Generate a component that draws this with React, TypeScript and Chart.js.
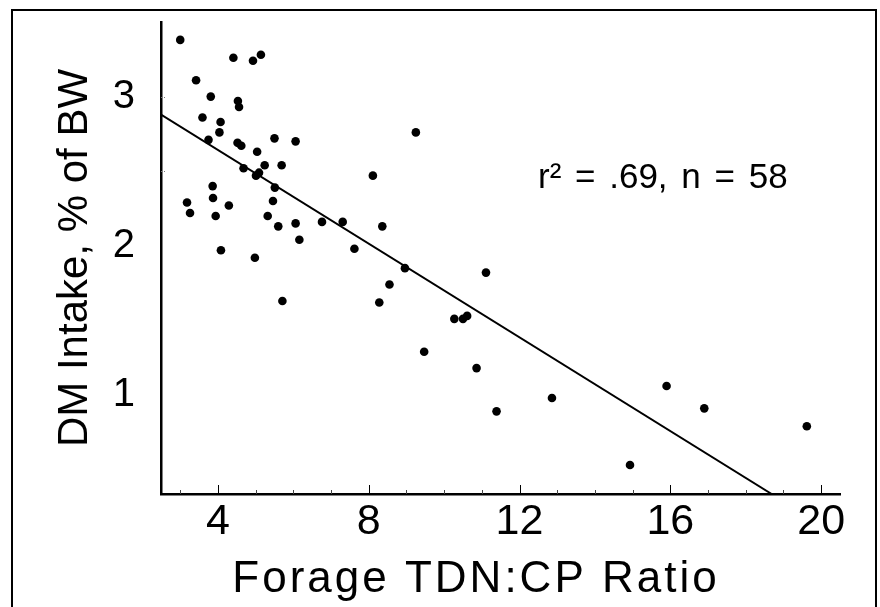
import React, { useEffect, useRef } from "react";
import { Chart, registerables } from "chart.js";

Chart.register(...registerables);

// ---- data ----
const forageRatio = [
  3.0, 4.41, 4.93, 5.14, 3.42, 3.81, 4.53, 4.56, 3.59, 4.07,
  4.04, 3.75, 5.5, 6.06, 4.52, 4.62, 5.04, 4.68, 5.24, 5.69,
  5.09, 5.01, 8.11, 5.51, 3.86, 3.87, 3.18, 3.26, 4.29, 5.46,
  3.94, 5.32, 5.6, 6.06, 6.76, 7.31, 8.36, 6.16, 7.62, 4.08,
  4.98, 8.55, 5.71, 8.28, 9.25, 8.96, 11.11, 10.27, 10.5, 10.61,
  9.47, 10.86, 12.86, 11.39, 15.9, 16.9, 19.62, 14.93,
];
const dmIntake = [
  3.38, 3.26, 3.24, 3.28, 3.11, 3.0, 2.97, 2.93, 2.86, 2.83,
  2.76, 2.71, 2.72, 2.7, 2.69, 2.67, 2.63, 2.52, 2.54, 2.54,
  2.49, 2.47, 2.47, 2.39, 2.4, 2.32, 2.29, 2.22, 2.27, 2.3,
  2.2, 2.2, 2.13, 2.15, 2.16, 2.16, 2.13, 2.04, 1.98, 1.97,
  1.92, 1.74, 1.63, 1.62, 2.76, 1.85, 1.82, 1.51, 1.51, 1.53,
  1.29, 1.18, 0.98, 0.89, 1.06, 0.91, 0.79, 0.53,
];
const xTickValues = [4, 8, 12, 16, 20];
const xMinorTickValues = [3, 5, 6, 7, 9, 10, 11, 13, 14, 15, 17, 18, 19];
const yTickValues = [1, 2, 3];
const yMinorTickValues = [2.5, 3];
const regressionIntercept = 3.27;
const regressionSlope = -0.157;
const statsText = "r\u00B2 = .69, n = 58";
const xTitle = "Forage TDN:CP Ratio";
const yTitle = "DM Intake, % of BW";

const X_MIN = 2.49;
const X_MAX = 20.5;
const Y_MIN = 0.336;
const Y_MAX = 3.5;

const FONT = "'Liberation Sans', Arial, Helvetica, sans-serif";

const tickPlugin = {
  id: "innerTicks",
  afterDatasetsDraw(chart: any) {
    const { ctx, chartArea } = chart;
    const xs = chart.scales.x;
    const ys = chart.scales.y;
    ctx.save();
    ctx.strokeStyle = "#000";
    ctx.lineWidth = 1;
    const yb = chartArea.bottom;
    xTickValues.forEach((v) => {
      const px = Math.round(xs.getPixelForValue(v)) + 0.5;
      ctx.beginPath();
      ctx.moveTo(px, yb);
      ctx.lineTo(px, yb - 9);
      ctx.stroke();
    });
    ctx.strokeStyle = "#444";
    xMinorTickValues.forEach((v) => {
      const px = Math.round(xs.getPixelForValue(v)) + 0.5;
      ctx.beginPath();
      ctx.moveTo(px, yb);
      ctx.lineTo(px, yb - 4);
      ctx.stroke();
    });
    ctx.strokeStyle = "#777";
    ctx.setLineDash([1, 2]);
    const xl = chartArea.left;
    yMinorTickValues.forEach((v) => {
      const py = Math.round(ys.getPixelForValue(v)) + 0.5;
      ctx.beginPath();
      ctx.moveTo(xl, py);
      ctx.lineTo(xl + 6, py);
      ctx.stroke();
    });
    ctx.setLineDash([]);

    // statistics annotation
    ctx.fillStyle = "#000";
    ctx.font = `35px ${FONT}`;
    (ctx as any).wordSpacing = "4px";
    ctx.textAlign = "center";
    ctx.textBaseline = "alphabetic";
    ctx.fillText(statsText, xs.getPixelForValue(15.8), ys.getPixelForValue(2.39));
    (ctx as any).wordSpacing = "0px";

    // x axis title
    ctx.font = `44px ${FONT}`;
    (ctx as any).letterSpacing = "3px";
    ctx.textAlign = "center";
    ctx.textBaseline = "alphabetic";
    ctx.fillText(xTitle, 476, 592);
    (ctx as any).letterSpacing = "0px";
    ctx.restore();
  },
};

export default function App() {
  const canvasRef = useRef<HTMLCanvasElement | null>(null);

  useEffect(() => {
    if (!canvasRef.current) return;
    const points = forageRatio.map((x, i) => ({ x, y: dmIntake[i] }));
    const xEnd = (regressionIntercept - Y_MIN) / -regressionSlope;
    const line = [
      { x: X_MIN, y: regressionIntercept + regressionSlope * X_MIN },
      { x: xEnd, y: regressionIntercept + regressionSlope * xEnd },
    ];
    const chart = new Chart(canvasRef.current, {
      type: "scatter",
      data: {
        datasets: [
          {
            type: "line",
            data: line,
            borderColor: "#000",
            borderWidth: 2,
            pointRadius: 0,
            fill: false,
          } as any,
          {
            type: "scatter",
            data: points,
            backgroundColor: "#000",
            borderColor: "#000",
            borderWidth: 0,
            pointRadius: 4.3,
          },
        ],
      },
      plugins: [tickPlugin],
      options: {
        animation: false,
        responsive: true,
        maintainAspectRatio: false,
        devicePixelRatio: 1,
        layout: { padding: { left: 0, top: 22, right: 40, bottom: 0 } },
        plugins: {
          legend: { display: false },
          tooltip: { enabled: false },
        },
        scales: {
          x: {
            type: "linear",
            min: X_MIN,
            max: X_MAX,
            afterBuildTicks: (scale: any) => {
              scale.ticks = xTickValues.map((v) => ({ value: v }));
            },
            afterFit: (scale: any) => {
              scale.height = 113;
              scale.paddingLeft = 0;
              scale.paddingRight = 0;
            },
            grid: { display: false, drawTicks: false },
            border: { display: true, color: "#000", width: 2.5 },
            ticks: {
              color: "#000",
              padding: 2,
              font: { family: FONT, size: 43 },
              maxRotation: 0,
              autoSkip: false,
            },
          },
          y: {
            type: "linear",
            min: Y_MIN,
            max: Y_MAX,
            afterBuildTicks: (scale: any) => {
              scale.ticks = yTickValues.map((v) => ({ value: v }));
            },
            afterFit: (scale: any) => {
              scale.width = 161;
              scale.paddingTop = 0;
              scale.paddingBottom = 0;
            },
            grid: { display: false, drawTicks: false },
            border: { display: true, color: "#000", width: 2.5 },
            ticks: {
              color: "#000",
              padding: 26,
              font: { family: FONT, size: 40 },
              autoSkip: false,
            },
            title: {
              display: true,
              text: yTitle,
              color: "#000",
              font: { family: FONT, size: 42 },
              padding: { top: 50, bottom: 0 },
            },
          },
        },
      },
    });
    return () => chart.destroy();
  }, []);

  return (
    <div
      style={{
        position: "fixed",
        left: 0,
        top: 0,
        width: 880,
        height: 607,
        overflow: "hidden",
        background: "#fff",
      }}
    >
      <div
        style={{
          position: "absolute",
          left: 11,
          top: 9,
          width: 866,
          height: 620,
          borderLeft: "2px solid #000",
          borderTop: "2px solid #000",
          borderRight: "2px solid #000",
          boxSizing: "border-box",
        }}
      />
      <div style={{ position: "absolute", left: 0, top: 0, width: 880, height: 607 }}>
        <canvas ref={canvasRef} />
      </div>
    </div>
  );
}
